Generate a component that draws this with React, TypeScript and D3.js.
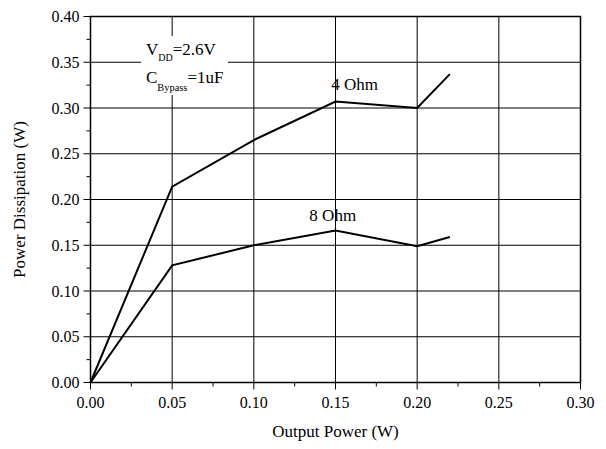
import React from "react";
import * as d3 from "d3";

// Output power (W) at each measurement point
const outputPower = [0, 0.05, 0.1, 0.15, 0.2, 0.22];
// Power dissipation (W) for each load
const dissipation4Ohm = [0, 0.214, 0.265, 0.307, 0.3, 0.337];
const dissipation8Ohm = [0, 0.128, 0.15, 0.166, 0.149, 0.159];

const xTicks = [0, 0.05, 0.1, 0.15, 0.2, 0.25, 0.3];
const yTicks = [0, 0.05, 0.1, 0.15, 0.2, 0.25, 0.3, 0.35, 0.4];
const xMinor = [0.025, 0.075, 0.125, 0.175, 0.225, 0.275];
const yMinor = [0.025, 0.075, 0.125, 0.175, 0.225, 0.275, 0.325, 0.375];

const W = 606;
const H = 449;
const margin = { left: 90.5, right: 25.5, top: 16.5, bottom: 66.5 };
const font = "Liberation Serif, Times New Roman, serif";

export default function App() {
  const x = d3
    .scaleLinear()
    .domain([0, 0.3])
    .range([margin.left, W - margin.right]);
  const y = d3
    .scaleLinear()
    .domain([0, 0.4])
    .range([H - margin.bottom, margin.top]);

  const line = d3
    .line<number>()
    .x((_, i) => x(outputPower[i]))
    .y((d) => y(d));

  const x0 = x(0);
  const x1 = x(0.3);
  const y0 = y(0);
  const y1 = y(0.4);

  return (
    <svg
      width={W}
      height={H}
      style={{
        position: "absolute",
        left: 0,
        top: 0,
        background: "#fff",
        fontFamily: font,
      }}
    >
      {/* grid */}
      <g stroke="#000" strokeWidth={1}>
        {xTicks.map((t) => (
          <line key={"gx" + t} x1={x(t)} x2={x(t)} y1={y1} y2={y0} />
        ))}
        {yTicks.map((t) => (
          <line key={"gy" + t} x1={x0} x2={x1} y1={y(t)} y2={y(t)} />
        ))}
      </g>

      {/* ticks */}
      <g stroke="#000" strokeWidth={1}>
        {xTicks.map((t) => (
          <line key={"tx" + t} x1={x(t)} x2={x(t)} y1={y0} y2={y0 + 7} />
        ))}
        {xMinor.map((t) => (
          <line key={"mx" + t} x1={x(t)} x2={x(t)} y1={y0} y2={y0 + 4} />
        ))}
        {yTicks.map((t) => (
          <line key={"ty" + t} x1={x0 - 7} x2={x0} y1={y(t)} y2={y(t)} />
        ))}
        {yMinor.map((t) => (
          <line key={"my" + t} x1={x0 - 4} x2={x0} y1={y(t)} y2={y(t)} />
        ))}
      </g>

      {/* frame */}
      <rect
        x={x0}
        y={y1}
        width={x1 - x0}
        height={y0 - y1}
        fill="none"
        stroke="#000"
        strokeWidth={1.5}
      />

      {/* tick labels */}
      <g fontSize={16} fill="#000">
        {xTicks.map((t) => (
          <text key={"lx" + t} x={x(t)} y={y0 + 25} textAnchor="middle">
            {d3.format(".2f")(t)}
          </text>
        ))}
        {yTicks.map((t) => (
          <text
            key={"ly" + t}
            x={x0 - 11}
            y={y(t)}
            textAnchor="end"
            dominantBaseline="central"
          >
            {d3.format(".2f")(t)}
          </text>
        ))}
      </g>

      {/* axis titles */}
      <text x={(x0 + x1) / 2} y={437} textAnchor="middle" fontSize={17}>
        Output Power (W)
      </text>
      <text
        transform={`translate(24.5,${(y0 + y1) / 2}) rotate(-90)`}
        textAnchor="middle"
        fontSize={17}
      >
        Power Dissipation (W)
      </text>

      {/* curves */}
      <path
        d={line(dissipation4Ohm) || ""}
        fill="none"
        stroke="#000"
        strokeWidth={2}
      />
      <path
        d={line(dissipation8Ohm) || ""}
        fill="none"
        stroke="#000"
        strokeWidth={2}
      />

      {/* curve labels */}
      <text x={x(0.1474)} y={y(0.32)} fontSize={17}>
        4 Ohm
      </text>
      <text x={x(0.134)} y={y(0.1765)} fontSize={17}>
        8 Ohm
      </text>

      {/* operating conditions */}
      <rect x={141} y={36} width={87} height={59} fill="#fff" />
      <text x={146} y={55} fontSize={17}>
        V
        <tspan fontSize={10} dy={6}>
          DD
        </tspan>
        <tspan dy={-6}>=2.6V</tspan>
      </text>
      <text x={146} y={83} fontSize={17}>
        C
        <tspan fontSize={10.4} dy={7.5}>
          Bypass
        </tspan>
        <tspan dy={-7.5}>=1uF</tspan>
      </text>
    </svg>
  );
}
